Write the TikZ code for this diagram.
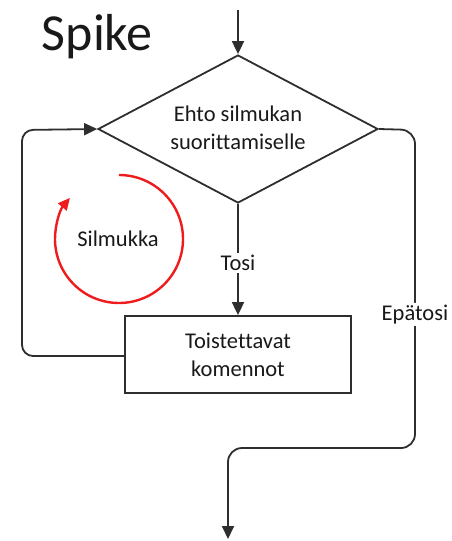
\documentclass[tikz,border=0pt]{standalone}
\usepackage{fontspec}
\setmainfont[Ligatures=NoCommon]{Carlito}
\usetikzlibrary{shapes.geometric,arrows.meta}
\definecolor{ln}{HTML}{2E2E2E}
\definecolor{rd}{HTML}{EE1C1C}
\begin{document}
\begin{tikzpicture}[x=1pt,y=1pt,
  line width=1.8pt,
  every node/.style={font=\fontsize{22.5}{28}\selectfont, text=black!90},
  arr/.style={draw=ln, -{Triangle[length=13pt,width=12pt]}},
  lbl/.style={fill=white, inner sep=2pt},
  decision/.style={diamond, draw=ln, minimum width=280pt, minimum height=148pt, inner sep=0pt},
  process/.style={rectangle, draw=ln, minimum width=226pt, minimum height=77pt, inner sep=0pt, align=center}]
\useasboundingbox (0,0) rectangle (452,-541);
\node[anchor=base west, inner sep=0pt, font=\fontsize{52}{52}\selectfont] (title) at (41,-50) {Spike};
\node[decision] (dia) at (238,-129) {};
\node[align=center] (diatext) at (238,-128) {Ehto silmukan\\suorittamiselle};
\node[process] (box) at (238,-354.5) {Toistettavat\\komennot};
\coordinate (start) at (238,-10);
\coordinate (end) at (228,-539);
\draw[arr] (start) -- (dia.north);
\draw[arr] (dia.south) -- node[lbl, pos=0.53] (tosi) {Tosi} (box.north);
\draw[arr, rounded corners=11pt] (box.west |- 0,-356) -- (22,-356) -- (22,-130) -- (dia.west);
\draw[arr, rounded corners=14pt] (dia.east) -- (415,-130) -- node[lbl, pos=0.58] (epa) {Epätosi} (415,-448) -- (228,-448) -- (end);
\node (silm) at (118,-239) {Silmukka};
\draw[rd, line width=2.4pt, -{Triangle[length=12pt,width=11pt]}] (119,-175) arc[start angle=90, end angle=-220, radius=64];
\end{tikzpicture}
\end{document}
